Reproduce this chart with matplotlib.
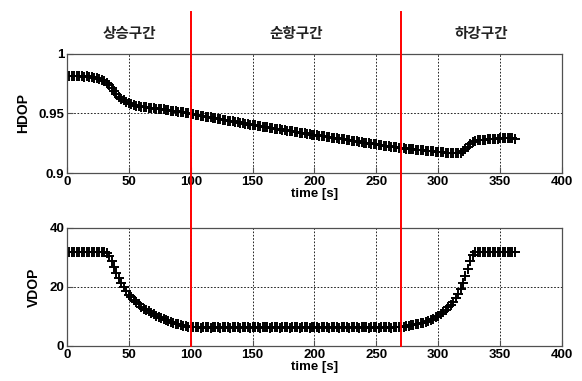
import numpy as np
import matplotlib
matplotlib.use('Agg')
import matplotlib.pyplot as plt
from matplotlib.lines import Line2D
from matplotlib import transforms

plt.rcParams['font.family'] = ['Liberation Sans', 'DejaVu Sans']

# 시간 (2초 간격)
time = np.arange(0, 363, 2)

hdop = [
    0.9818, 0.9815, 0.9817, 0.9814, 0.9815, 0.9812, 0.9813, 0.9810, 0.9811, 0.9808,
    0.9805, 0.9802, 0.9796, 0.9790, 0.9782, 0.9770, 0.9758, 0.9740, 0.9715, 0.9685,
    0.9660, 0.9640, 0.9625, 0.9612, 0.9600, 0.9588, 0.9580, 0.9573, 0.9567, 0.9562,
    0.9558, 0.9555, 0.9553, 0.9550, 0.9547, 0.9545, 0.9542, 0.9540, 0.9537, 0.9534,
    0.9531, 0.9528, 0.9525, 0.9522, 0.9519, 0.9516, 0.9513, 0.9509, 0.9505, 0.9501,
    0.9497, 0.9493, 0.9489, 0.9486, 0.9482, 0.9478, 0.9474, 0.9471, 0.9467, 0.9463,
    0.9459, 0.9456, 0.9452, 0.9448, 0.9444, 0.9441, 0.9437, 0.9433, 0.9429, 0.9426,
    0.9422, 0.9418, 0.9414, 0.9410, 0.9407, 0.9403, 0.9400, 0.9396, 0.9393, 0.9390,
    0.9386, 0.9383, 0.9380, 0.9376, 0.9373, 0.9370, 0.9366, 0.9363, 0.9360, 0.9356,
    0.9353, 0.9350, 0.9346, 0.9343, 0.9340, 0.9336, 0.9333, 0.9330, 0.9327, 0.9323,
    0.9320, 0.9317, 0.9314, 0.9310, 0.9307, 0.9304, 0.9301, 0.9298, 0.9294, 0.9291,
    0.9288, 0.9285, 0.9282, 0.9278, 0.9275, 0.9272, 0.9269, 0.9266, 0.9262, 0.9259,
    0.9256, 0.9253, 0.9250, 0.9246, 0.9243, 0.9240, 0.9237, 0.9234, 0.9231, 0.9228,
    0.9225, 0.9222, 0.9219, 0.9216, 0.9213, 0.9210, 0.9207, 0.9204, 0.9202, 0.9200,
    0.9198, 0.9196, 0.9194, 0.9192, 0.9190, 0.9188, 0.9186, 0.9184, 0.9182, 0.9180,
    0.9178, 0.9176, 0.9174, 0.9171, 0.9168, 0.9166, 0.9165, 0.9165, 0.9167, 0.9172,
    0.9185, 0.9202, 0.9222, 0.9242, 0.9258, 0.9268, 0.9274, 0.9277, 0.9279, 0.9281,
    0.9282, 0.9284, 0.9286, 0.9288, 0.9289, 0.9290, 0.9291, 0.9291, 0.9290, 0.9291,
    0.9290, 0.9289,
]

vdop = [
    31.8, 31.9, 31.7, 31.8, 31.9, 31.8, 31.7, 31.8, 31.9, 31.8,
    31.8, 31.7, 31.8, 31.9, 31.8, 31.7, 31.5, 30.6, 28.8, 26.7,
    24.6, 22.9, 21.4, 20.0, 18.6, 17.3, 16.5, 15.7, 14.9, 14.1,
    13.3, 12.7, 12.2, 11.7, 11.2, 10.7, 10.3, 9.9, 9.5, 9.1,
    8.8, 8.5, 8.2, 7.9, 7.6, 7.4, 7.1, 6.9, 6.7, 6.6,
    6.5, 6.4, 6.3, 6.4, 6.2, 6.3, 6.4, 6.3, 6.2, 6.3,
    6.4, 6.3, 6.2, 6.3, 6.4, 6.3, 6.2, 6.3, 6.3, 6.4,
    6.2, 6.3, 6.4, 6.3, 6.2, 6.3, 6.4, 6.3, 6.2, 6.3,
    6.3, 6.4, 6.2, 6.3, 6.4, 6.3, 6.2, 6.3, 6.4, 6.3,
    6.2, 6.3, 6.3, 6.4, 6.2, 6.3, 6.4, 6.3, 6.2, 6.3,
    6.4, 6.3, 6.2, 6.3, 6.3, 6.4, 6.2, 6.3, 6.4, 6.3,
    6.2, 6.3, 6.4, 6.3, 6.2, 6.3, 6.3, 6.4, 6.2, 6.3,
    6.4, 6.3, 6.2, 6.3, 6.4, 6.3, 6.2, 6.3, 6.3, 6.4,
    6.3, 6.2, 6.3, 6.4, 6.3, 6.5, 6.6, 6.7, 6.8, 7.0,
    7.1, 7.3, 7.5, 7.7, 7.9, 8.2, 8.5, 8.9, 9.3, 9.8,
    10.3, 10.9, 11.6, 12.3, 13.1, 13.9, 14.9, 16.1, 17.5, 19.2,
    21.2, 23.6, 26.2, 28.7, 30.8, 31.8, 31.9, 31.7, 31.8, 31.9,
    31.8, 31.7, 31.8, 31.9, 31.8, 31.7, 31.8, 31.9, 31.8, 31.7,
    31.8, 31.9,
]

phase_names = ['상승구간', '순항구간', '하강구간']
phase_bounds = [0, 100, 270, 400]

fig = plt.figure(figsize=(5.82, 3.81), dpi=100)
ax1 = fig.add_axes([0.1151, 0.5459, 0.8505, 0.3124])
ax2 = fig.add_axes([0.1151, 0.0919, 0.8505, 0.3097])

spine_color = '#505050'
for ax, y, ylab, ylim, yticks, yticklabels in [
        (ax1, hdop, 'HDOP', (0.9, 1.0), [0.9, 0.95, 1.0], ['0.9', '0.95', '1']),
        (ax2, vdop, 'VDOP', (0, 40), [0, 20, 40], ['0', '20', '40'])]:
    ax.plot(time, y, linestyle='none', marker='+', color='black',
            markersize=7, markeredgewidth=1.4)
    ax.set_xlim(0, 400)
    ax.set_ylim(*ylim)
    ax.set_xticks(np.arange(0, 401, 50))
    ax.set_yticks(yticks)
    ax.set_yticklabels(yticklabels)
    ax.grid(True, color='black', linestyle=(0, (2, 2)), linewidth=0.6)
    ax.tick_params(direction='in', length=4, width=0.8, color=spine_color,
                   labelsize=9.5, pad=2)
    for lab in ax.get_xticklabels() + ax.get_yticklabels():
        lab.set_fontweight('bold')
    for sp in ax.spines.values():
        sp.set_color(spine_color)
        sp.set_linewidth(0.9)
    ax.set_ylabel(ylab, fontsize=10, fontweight='bold', labelpad=6)
    ax.set_xlabel('time [s]', fontsize=9.5, fontweight='bold', labelpad=0)

# 구간 경계 (빨간 선) - 두 그래프를 가로지름
tr = transforms.blended_transform_factory(ax1.transData, fig.transFigure)
for xb in phase_bounds[1:3]:
    fig.add_artist(Line2D([xb, xb], [0.0919, 0.9685], transform=tr,
                          color='red', linewidth=1.4))

# 구간 이름
for i, name in enumerate(phase_names):
    xc = (phase_bounds[i] + phase_bounds[i + 1]) / 2
    fig.text(xc, 0.913, name, transform=tr, ha='center', va='center',
             fontsize=10.5, fontweight='bold', color='#222222',
             family=['Noto Sans CJK KR', 'DejaVu Sans'])

fig.savefig('out.png', dpi=100)
